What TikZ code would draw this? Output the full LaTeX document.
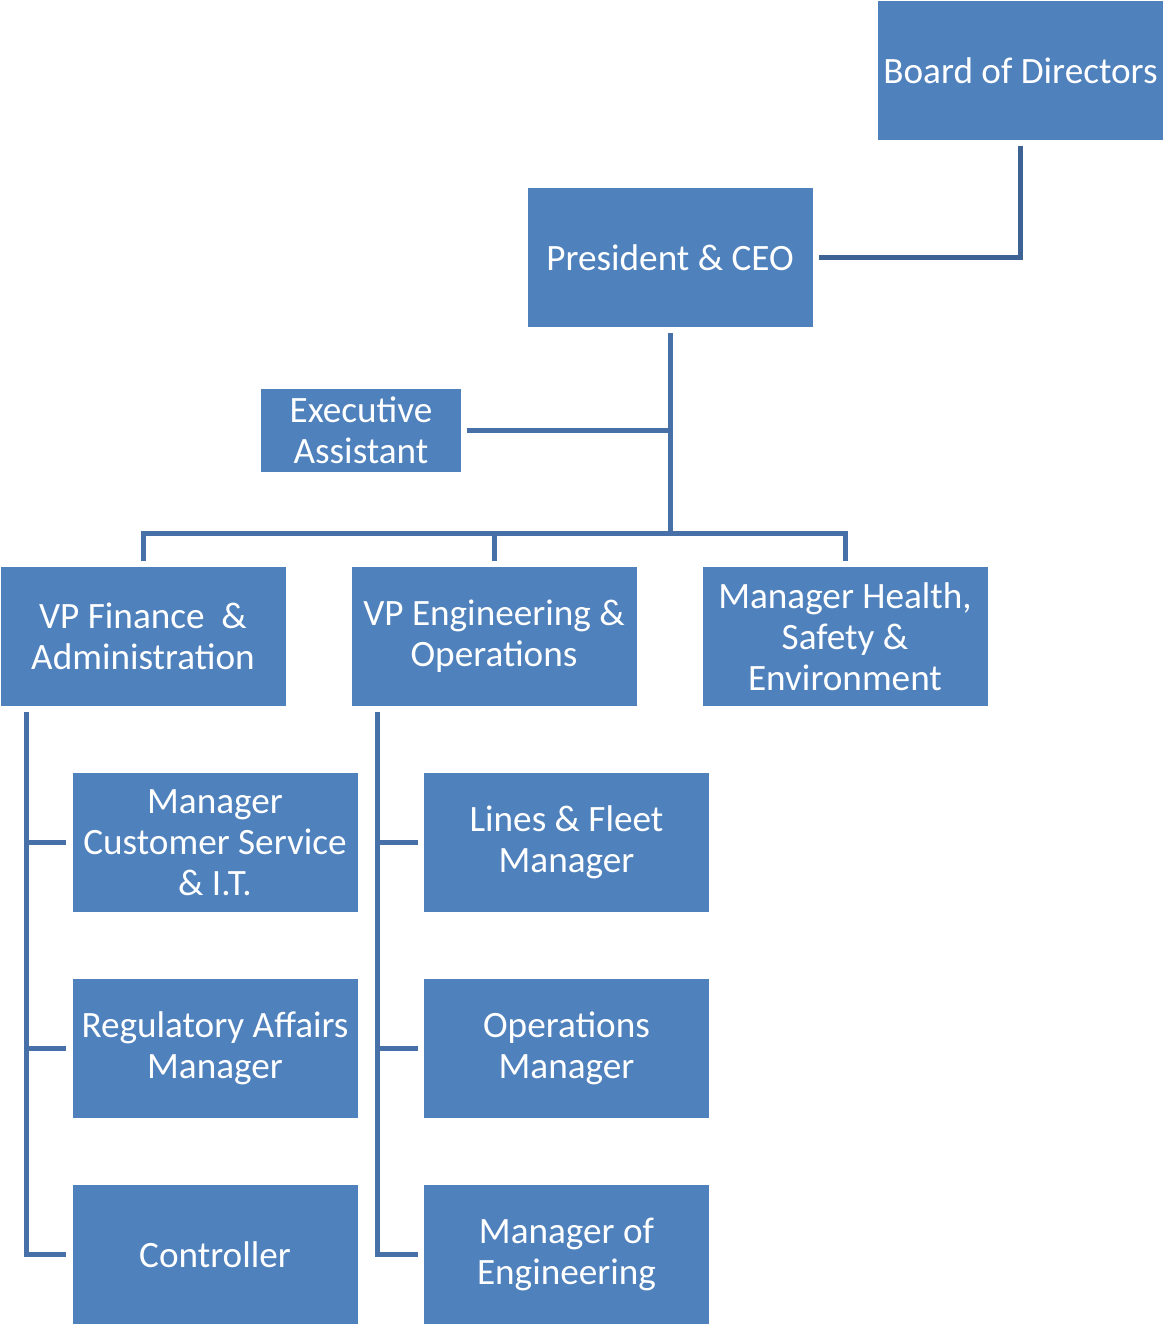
\documentclass[tikz,border=0pt]{standalone}
\usepackage{fontspec}
\setmainfont{Carlito}
\usepackage{tikz}
\usetikzlibrary{calc}
\definecolor{boxblue}{RGB}{79,129,189}
\definecolor{lineblue}{RGB}{72,112,168}
\definecolor{darkline}{RGB}{61,98,148}

\begin{document}
\begin{tikzpicture}[x=0.5pt,y=-0.5pt,
  box/.style={rectangle, fill=boxblue, text=white, minimum width=142.5pt, minimum height=69.5pt,
    inner sep=0pt, align=center, font=\fontsize{18.6}{20.5}\selectfont},
  link/.style={draw=lineblue, line width=2.5pt}]

\useasboundingbox (0,0) rectangle (1163,1324);

\node[box] (board) at (1020.5,70.5) {Board of Directors};
\node[box] (ceo) at (670,257.5) {President \& CEO};
\node[box, minimum width=100pt, minimum height=41.5pt] (exec) at (361,430.5) {Executive\\Assistant};

\node[box] (vpfin) at (143,636.5) {VP Finance\ \ \&\\Administration};
\node[box] (vpeng) at (494,636.5) {VP Engineering \&\\Operations};
\node[box] (hse) at (845,636.5) {Manager Health,\\Safety \&\\Environment};

\node[box] (cs) at (215,842.5) {Manager\\Customer Service\\\& I.T.};
\node[box] (reg) at (215,1048.5) {Regulatory Affairs\\Manager};
\node[box] (ctrl) at (215,1254.5) {Controller};

\node[box] (fleet) at (566.5,842.5) {Lines \& Fleet\\Manager};
\node[box] (ops) at (566.5,1048.5) {Operations\\Manager};
\node[box] (eng) at (566.5,1254.5) {Manager of\\Engineering};

\coordinate (bus) at (670,533);
\coordinate (fintop) at ($(vpfin.south west)+(26,0)$);
\coordinate (engtop) at ($(vpeng.south west)+(26,0)$);

\draw[link, draw=darkline, line width=2.8pt, shorten <=3pt, shorten >=3pt] (board.south) |- (ceo.east);
\draw[link, shorten <=3pt] (ceo.south) -- (bus);
\draw[link, shorten <=3pt] (exec.east) -- (exec.east -| ceo.south);
\draw[link, shorten <=3pt, shorten >=3pt] (vpfin.north) |- (bus) -| (hse.north);
\draw[link, shorten >=3pt] (bus -| vpeng.north) -- (vpeng.north);

\draw[link, shorten <=3pt, shorten >=3pt] (fintop) |- (ctrl.west);
\draw[link, shorten >=3pt] (fintop |- cs.west) -- (cs.west);
\draw[link, shorten >=3pt] (fintop |- reg.west) -- (reg.west);

\draw[link, shorten <=3pt, shorten >=3pt] (engtop) |- (eng.west);
\draw[link, shorten >=3pt] (engtop |- fleet.west) -- (fleet.west);
\draw[link, shorten >=3pt] (engtop |- ops.west) -- (ops.west);

\end{tikzpicture}
\end{document}
